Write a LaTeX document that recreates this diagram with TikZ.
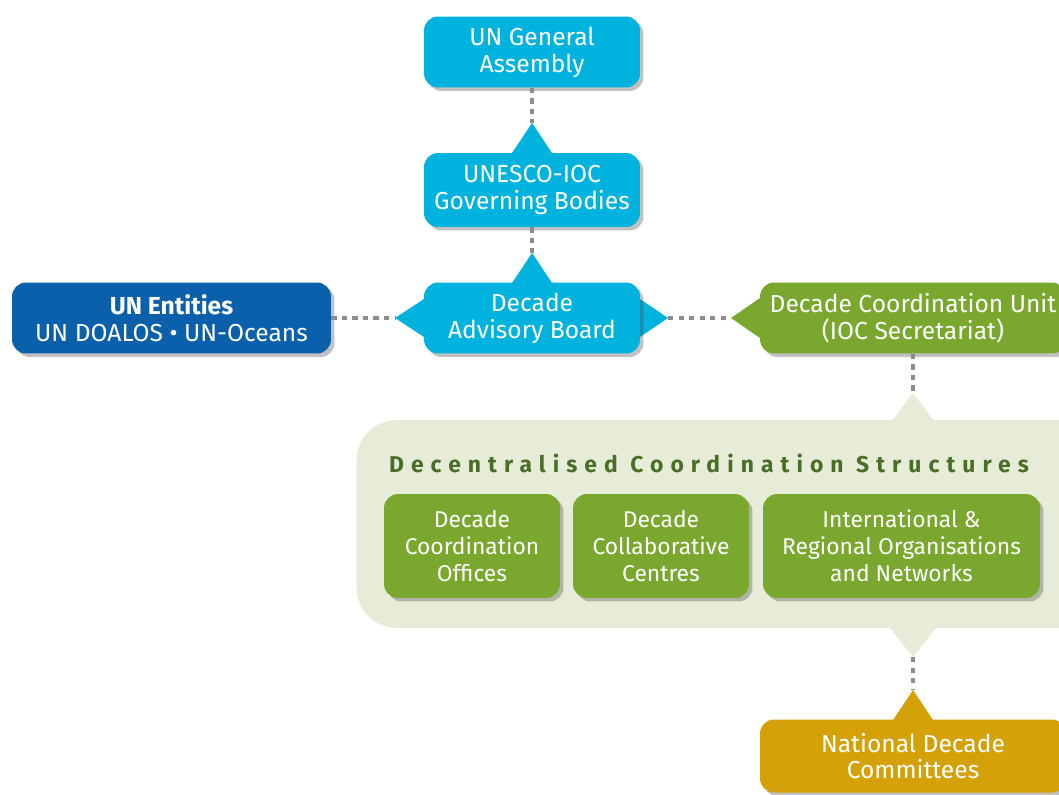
\documentclass[tikz,border=0pt]{standalone}
\usepackage{fontspec}
\setmainfont{Fira Sans}
\usetikzlibrary{shadows}
\definecolor{skyblue}{RGB}{0,178,222}
\definecolor{deepblue}{RGB}{10,96,170}
\definecolor{leafgreen}{RGB}{122,168,46}
\definecolor{gold}{RGB}{212,161,8}
\definecolor{palegreen}{RGB}{231,236,216}
\definecolor{titlegreen}{RGB}{74,110,40}
\definecolor{dashgray}{RGB}{140,140,140}
\tikzset{
  box/.style={rounded corners=0.28cm, text=white, align=center, inner sep=0pt,
    font=\fontsize{14}{15.3}\selectfont,
    drop shadow={shadow xshift=0.07cm, shadow yshift=-0.07cm, opacity=0.35, fill=black!70}},
  subbox/.style={box, fill=leafgreen, minimum height=2.08cm, font=\fontsize{13}{15.3}\selectfont},
  link/.style={dashgray, line width=1.8pt, dash pattern=on 3pt off 3pt},
}
\begin{document}
\begin{tikzpicture}[x=0.02cm, y=-0.02cm]
   \useasboundingbox (0,0) rectangle (1059,795);
   \clip (0,0) rectangle (1059,795);
   % decentralised area
   \fill [palegreen] (893,420) -- (913,393) -- (933,420) -- cycle;
   \fill [palegreen] (890,628) -- (913,657) -- (936,628) -- cycle;
   \node (dcs) [fill=palegreen, rounded corners=0.8cm, minimum width=14.9cm, minimum height=4.16cm] at (729,524) {};
   \node (dcstitle) [text=titlegreen, font=\fontsize{13}{15}\selectfont\bfseries\addfontfeatures{LetterSpace=31}] at (709,463) {Decentralised Coordination Structures};
   \node (dco) [subbox, minimum width=3.52cm] at (472,546) {Decade\\Coordination\\Offices};
   \node (dcc) [subbox, minimum width=3.52cm] at (661,546) {Decade\\Collaborative\\Centres};
   \node (iro) [subbox, minimum width=5.54cm] at (901.5,546) {International \&\\Regional Organisations\\and Networks};
   % tips
   \fill [skyblue] (512,153) -- (532,123) -- (552,153) -- cycle;
   \fill [skyblue] (512,283) -- (532,253) -- (552,283) -- cycle;
   \fill [skyblue] (424,299) -- (395,318) -- (424,337) -- cycle;
   \fill [skyblue] (640,299) -- (668,318) -- (640,337) -- cycle;
   \fill [leafgreen] (760,298) -- (731,318) -- (760,338) -- cycle;
   \fill [gold] (893,720) -- (913,690) -- (933,720) -- cycle;
   % boxes
   \node (ga) [box, fill=skyblue, minimum width=4.32cm, minimum height=1.42cm] at (532,52) {UN General\\Assembly};
   \node (igb) [box, fill=skyblue, minimum width=4.32cm, minimum height=1.48cm] at (532,190) {UNESCO-IOC\\Governing Bodies};
   \node (dab) [box, fill=skyblue, minimum width=4.32cm, minimum height=1.42cm] at (532,318) {Decade\\Advisory Board};
   \node (une) [box, fill=deepblue, minimum width=6.38cm, minimum height=1.42cm] at (171.5,318) {\textbf{UN Entities}\\UN DOALOS • UN-Oceans};
   \node (dcu) [box, fill=leafgreen, minimum width=6.12cm, minimum height=1.42cm] at (913,318) {Decade Coordination Unit\\(IOC Secretariat)};
   \node (ndc) [box, fill=gold, minimum width=6.12cm, minimum height=1.46cm] at (913,756) {National Decade\\Committees};
   % connectors
   \coordinate (igbtip) at (532,123);
   \coordinate (dabtip) at (532,253);
   \coordinate (dableft) at (395,318);
   \coordinate (dabright) at (668,318);
   \coordinate (dculeft) at (731,318);
   \coordinate (dcstop) at (913,393);
   \coordinate (dcsbottom) at (913,657);
   \coordinate (ndctip) at (913,690);
   \draw [link] (ga.south) -- (igbtip);
   \draw [link] (igb.south) -- (dabtip);
   \draw [link] (une.east) -- (dableft);
   \draw [link] (dabright) -- (dculeft);
   \draw [link] (dcu.south) -- (dcstop);
   \draw [link] (dcsbottom) -- (ndctip);
\end{tikzpicture}
\end{document}
